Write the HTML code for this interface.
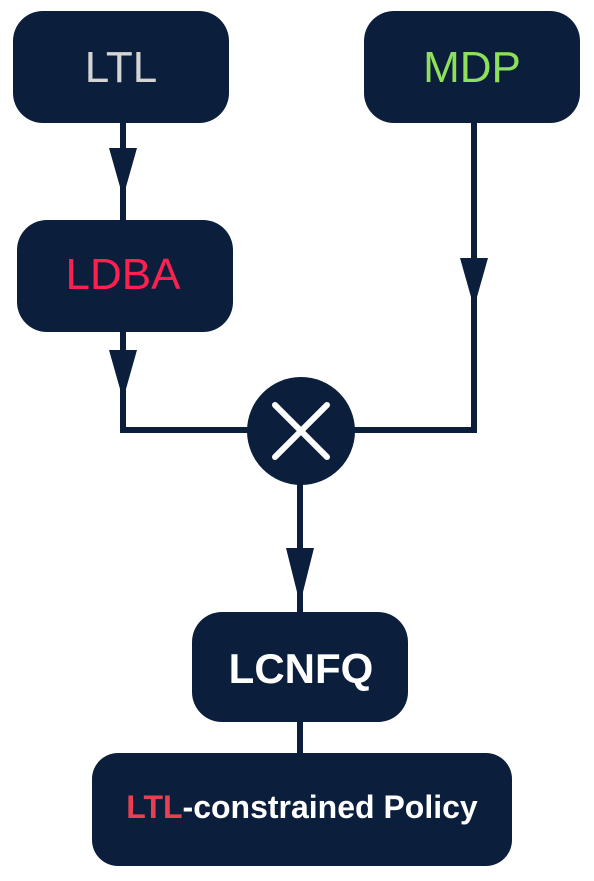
<!DOCTYPE html>
<html><head><meta charset="utf-8"><style>
html,body{margin:0;padding:0;background:#fff;width:594px;height:881px;overflow:hidden}
svg{display:block}
text{font-family:"Liberation Sans",sans-serif;}
</style></head><body>
<svg width="594" height="881" viewBox="0 0 594 881">
<g stroke="#0b1f3d" stroke-width="6" fill="none">
<line x1="123" y1="120" x2="123" y2="222"/>
<polyline points="123,330 123,430 250,430"/>
<polyline points="474,120 474,430 350,430"/>
<line x1="300" y1="480" x2="300" y2="615"/>
<line x1="300" y1="720" x2="300" y2="756"/>
</g>
<g fill="#0b1f3d">
<polygon points="109,148 137,148 124,194 122,194"/>
<polygon points="460,258 488,258 475,304 473,304"/>
<polygon points="109,350 137,350 124,396 122,396"/>
<polygon points="286,548 314,548 301,600 299,600"/>
<rect x="13" y="11" width="216" height="112" rx="30"/>
<rect x="364" y="11" width="216" height="112" rx="30"/>
<rect x="17" y="220" width="216" height="112" rx="30"/>
<rect x="192" y="612" width="216" height="110" rx="30"/>
<rect x="92" y="753" width="420" height="113" rx="26"/>
<rect x="225" y="850" width="150" height="16"/>
<circle cx="301" cy="431" r="54"/>
</g>
<g stroke="#fff" stroke-width="6" stroke-linecap="round">
<line x1="275" y1="405" x2="327" y2="457"/>
<line x1="327" y1="405" x2="275" y2="457"/>
</g>
<text x="121" y="82" font-size="44" fill="#d4d4d4" text-anchor="middle">LTL</text>
<text x="472" y="82" font-size="44" fill="#8ee05a" text-anchor="middle">MDP</text>
<text x="123" y="289" font-size="44" fill="#ff2050" text-anchor="middle">LDBA</text>
<text x="301" y="683" font-size="42" font-weight="bold" fill="#fff" text-anchor="middle">LCNFQ</text>
<text x="302" y="818" font-size="32" font-weight="bold" fill="#fff" text-anchor="middle"><tspan fill="#e84050">LTL</tspan>-constrained Policy</text>
</svg>
</body></html>
